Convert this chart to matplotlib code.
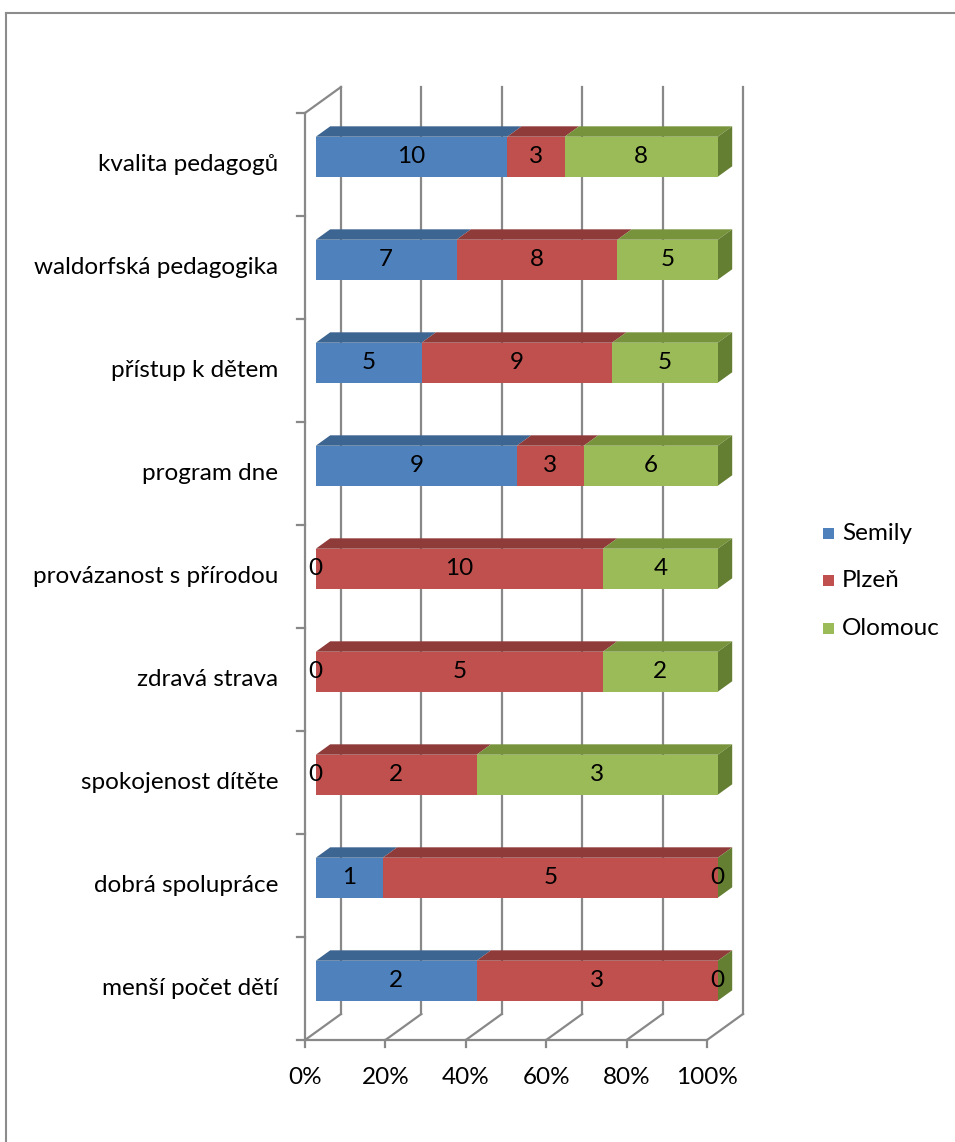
import matplotlib
matplotlib.use("Agg")
import matplotlib.pyplot as plt
from matplotlib.patches import Polygon, Rectangle

plt.rcParams['font.family'] = ['Lato', 'DejaVu Sans']

# categories from top to bottom, counts per town
categories = ['kvalita pedagogů', 'waldorfská pedagogika', 'přístup k dětem',
              'program dne', 'provázanost s přírodou', 'zdravá strava',
              'spokojenost dítěte', 'dobrá spolupráce', 'menší počet dětí']
series = ['Semily', 'Plzeň', 'Olomouc']
semily = [10, 7, 5, 9, 0, 0, 0, 1, 2]
plzen = [3, 8, 9, 3, 10, 5, 2, 5, 3]
olomouc = [8, 5, 5, 6, 4, 2, 3, 0, 0]
ticks = [0, 20, 40, 60, 80, 100]

front = ['#4F81BD', '#C0504D', '#9BBB59']
top = ['#3D6591', '#8E3B39', '#77933C']
side = ['#365780', '#7D3331', '#657F32']
grid_c = '#888888'
fs = 17.5

W, H, DPI = 955, 1142, 100
fig = plt.figure(figsize=(W / DPI, H / DPI), dpi=DPI)
ax = fig.add_axes([0, 0, 1, 1])
ax.axis('off')

# pixel layout of the plot box
x0_px, x1_px = 305, 707
y0_px, ycat_px = 1040, 103
sx = (x1_px - x0_px) / 100.0
ax.set_xlim(-x0_px / sx, (W - x0_px) / sx)
ax.set_ylim(-(H - y0_px) / ycat_px, y0_px / ycat_px)

n = len(categories)
DX, DY = 36 / sx, 26 / ycat_px          # full depth of the box
d0, d1 = 0.3, 0.7                         # bar depth range
bar_h = 0.388

lw = 1.6
# back wall gridlines and floor
for t in ticks:
    ax.plot([t + DX, t + DX], [DY, n + DY], color=grid_c, lw=lw, zorder=1)
    ax.plot([t, t + DX], [0, DY], color=grid_c, lw=lw, zorder=1)
    ax.plot([t, t], [0, -7 / ycat_px], color=grid_c, lw=lw, zorder=1)
    ax.text(t, -37 / ycat_px, f'{t}%', ha='center', va='center', fontsize=fs)
ax.plot([0, 100], [0, 0], color=grid_c, lw=lw, zorder=1)
ax.plot([0, 0], [0, n], color=grid_c, lw=lw, zorder=1)
ax.plot([0, DX], [n, n + DY], color=grid_c, lw=lw, zorder=1)
for i in range(n + 1):
    ax.plot([-8 / sx, 0], [i, i], color=grid_c, lw=lw, zorder=1)

# stacked 100% bars
data = [semily, plzen, olomouc]
for r, cat in enumerate(categories):
    yc = n - 1 - r + 0.5
    total = sum(d[r] for d in data)
    fy0 = yc - bar_h / 2 + d0 * DY
    fy1 = yc + bar_h / 2 + d0 * DY
    fx = d0 * DX
    ddx, ddy = (d1 - d0) * DX, (d1 - d0) * DY
    left = 0.0
    for k, vals in enumerate(data):
        w = vals[r] / total * 100
        a, b = left + fx, left + w + fx
        ax.add_patch(Polygon([(a, fy1), (b, fy1), (b + ddx, fy1 + ddy), (a + ddx, fy1 + ddy)],
                             closed=True, fc=top[k], ec='none', zorder=3))
        ax.add_patch(Rectangle((a, fy0), w, fy1 - fy0, fc=front[k], ec='none', zorder=4))
        if k == len(data) - 1:
            ax.add_patch(Polygon([(b, fy0), (b, fy1), (b + ddx, fy1 + ddy), (b + ddx, fy0 + ddy)],
                                 closed=True, fc=side[k], ec='none', zorder=3))
        ax.text((a + b) / 2, (fy0 + fy1) / 2, str(vals[r]), ha='center', va='center',
                fontsize=fs, zorder=6)
        left += w
    ax.text(-27 / sx, yc, cat, ha='right', va='center', fontsize=fs)

# legend
for k, name in enumerate(series):
    ly = (y0_px - (533 + 47.5 * k)) / ycat_px
    ax.add_patch(Rectangle((518 / sx, ly - 5.5 / ycat_px), 11 / sx, 11 / ycat_px,
                           fc=front[k], ec='none'))
    ax.text(537 / sx, ly, name, ha='left', va='center', fontsize=fs)

# chart area border
ax.plot([-299 / sx, (W - x0_px) / sx], [(y0_px - 13) / ycat_px] * 2, color='#8C8C8C', lw=1.5)
ax.plot([-299 / sx, -299 / sx], [(y0_px - 13) / ycat_px, -(H - y0_px) / ycat_px],
        color='#8C8C8C', lw=1.5)

fig.savefig('out.png', dpi=DPI)
